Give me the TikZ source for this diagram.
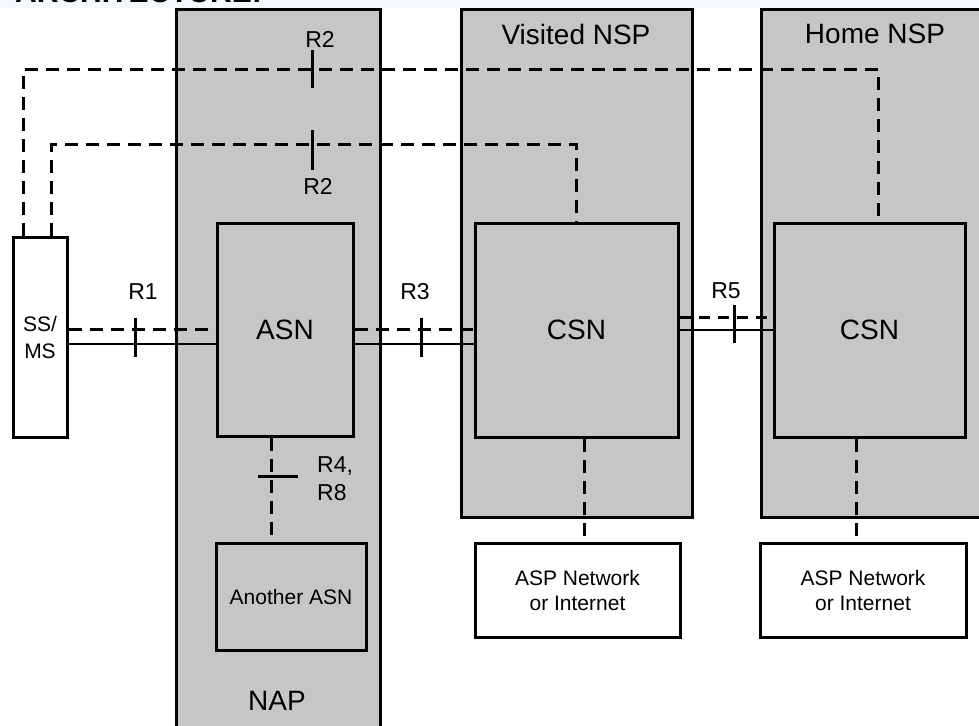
\documentclass[tikz,border=0pt]{standalone}
\usepackage{fontspec}
\setmainfont{Liberation Sans}
\usetikzlibrary{calc}
\definecolor{boxgray}{RGB}{198,198,198}
\definecolor{stripc}{RGB}{245,248,252}
\begin{document}
\begin{tikzpicture}[x=1pt,y=-1pt,
 region/.style={draw,line width=3pt,fill=boxgray,inner sep=0pt},
 unit/.style={draw,line width=3pt,fill=boxgray,inner sep=0pt,font=\fontsize{28}{32}\selectfont},
 whitebox/.style={draw,line width=3pt,fill=white,inner sep=0pt,align=center},
 dsh/.style={line width=3pt,dash pattern=on 13pt off 8pt},
 sol/.style={line width=2.2pt},
 tickl/.style={line width=3pt},
 lbl/.style={font=\fontsize{23}{28}\selectfont,inner sep=0pt},
 big/.style={font=\fontsize{28}{32}\selectfont,inner sep=0pt}]
\useasboundingbox (0,0) rectangle (979,725);
\fill[white] (0,0) rectangle (979,725);
\fill[stripc] (0,0) rectangle (979,8);
\node[anchor=base west,font=\bfseries\fontsize{30}{32}\selectfont,inner sep=0pt] (title) at (15,3) {ARCHITECTURE:};

% regions
\node[region,minimum width=204pt,minimum height=740pt] (nap) at (278,380) {};
\node[region,minimum width=231pt,minimum height=507pt] (vnsp) at (576.5,263.5) {};
\node[region,minimum width=240pt,minimum height=507pt] (hnsp) at (881,263.5) {};
\node[big] (vlbl) at (576,34) {Visited NSP};
\node[big] (hlbl) at (875,34) {Home NSP};
\node[big] (naplbl) at (277,701) {NAP};

% units
\node[whitebox,minimum width=54pt,minimum height=200pt,font=\fontsize{21}{27}\selectfont] (ss) at (40,337) {SS/\\MS};
\node[unit,minimum width=136pt,minimum height=213pt] (asn) at (285,329.5) {ASN};
\node[unit,minimum width=203pt,minimum height=214pt] (vcsn) at (576.5,330) {CSN};
\node[unit,minimum width=191pt,minimum height=214pt] (hcsn) at (869.5,330) {CSN};
\node[whitebox,minimum width=205pt,minimum height=94pt,font=\fontsize{21}{25}\selectfont] (vasp) at (577.5,590) {ASP Network\\or Internet};
\node[whitebox,minimum width=206pt,minimum height=94pt,font=\fontsize{21}{25}\selectfont] (hasp) at (863,590) {ASP Network\\or Internet};
\node[unit,minimum width=150pt,minimum height=107pt,font=\fontsize{21}{25}\selectfont] (another) at (291,596.5) {Another ASN};

% R2 outer
\coordinate (r2a) at ([xshift=12pt]ss.north west);
\coordinate (r2b) at ([xshift=8.5pt]hcsn.north);
\draw[dsh] (r2a) -- (r2a |- 0,69) -- (r2b |- 0,69) -- (r2b);
% R2 inner
\coordinate (r2c) at ([xshift=40pt]ss.north west);
\draw[dsh] (r2c) -- (r2c |- 0,144) -- (vcsn.north |- 0,144) -- (vcsn.north);
\coordinate (t2a) at (312,69);
\coordinate (t2b) at (312,150);
\draw[tickl] ($(t2a)+(0,-19)$) -- ($(t2a)+(0,19)$);
\draw[tickl] ($(t2b)+(0,-20)$) -- ($(t2b)+(0,20)$);
\node[lbl] (r2top) at (320,39) {R2};
\node[lbl] (r2bot) at (318,186) {R2};

% R1
\draw[sol] (ss.east |- 0,344) -- (asn.west |- 0,344);
\draw[dsh] (ss.east |- 0,329) -- (asn.west |- 0,329);
\coordinate (t1) at (135,337.5);
\draw[tickl] ($(t1)+(0,-19.5)$) -- ($(t1)+(0,19.5)$);
\node[lbl] (r1) at (143,292) {R1};

% R3
\draw[sol] (asn.east |- 0,344) -- (vcsn.west |- 0,344);
\draw[dsh] (asn.east |- 0,329) -- (vcsn.west |- 0,329);
\coordinate (t3) at (421,337.5);
\draw[tickl] ($(t3)+(0,-19.5)$) -- ($(t3)+(0,19.5)$);
\node[lbl] (r3) at (415,292) {R3};

% R5
\draw[sol] (vcsn.east |- 0,330) -- (hcsn.west |- 0,330);
\draw[dsh,dash pattern=on 11pt off 8pt] (vcsn.east |- 0,317) -- (hcsn.west |- 0,317);
\coordinate (t5) at (734,324);
\draw[tickl] ($(t5)+(0,-19)$) -- ($(t5)+(0,19)$);
\node[lbl] (r5) at (726,291) {R5};

% R4, R8
\coordinate (r4a) at ([xshift=-14pt]asn.south);
\draw[dsh] (r4a) -- (r4a |- another.north);
\coordinate (t4) at (278,476);
\draw[tickl] ($(t4)+(-20,0)$) -- ($(t4)+(20,0)$);
\node[lbl,anchor=west,align=left] (r4) at (317,479) {R4,\\R8};

% CSN to ASP
\coordinate (va) at ([xshift=7.5pt]vcsn.south);
\draw[dsh] (va) -- (va |- vasp.north);
\coordinate (ha) at ([xshift=-13.5pt]hcsn.south);
\draw[dsh] (ha) -- (ha |- hasp.north);
\end{tikzpicture}
\end{document}
